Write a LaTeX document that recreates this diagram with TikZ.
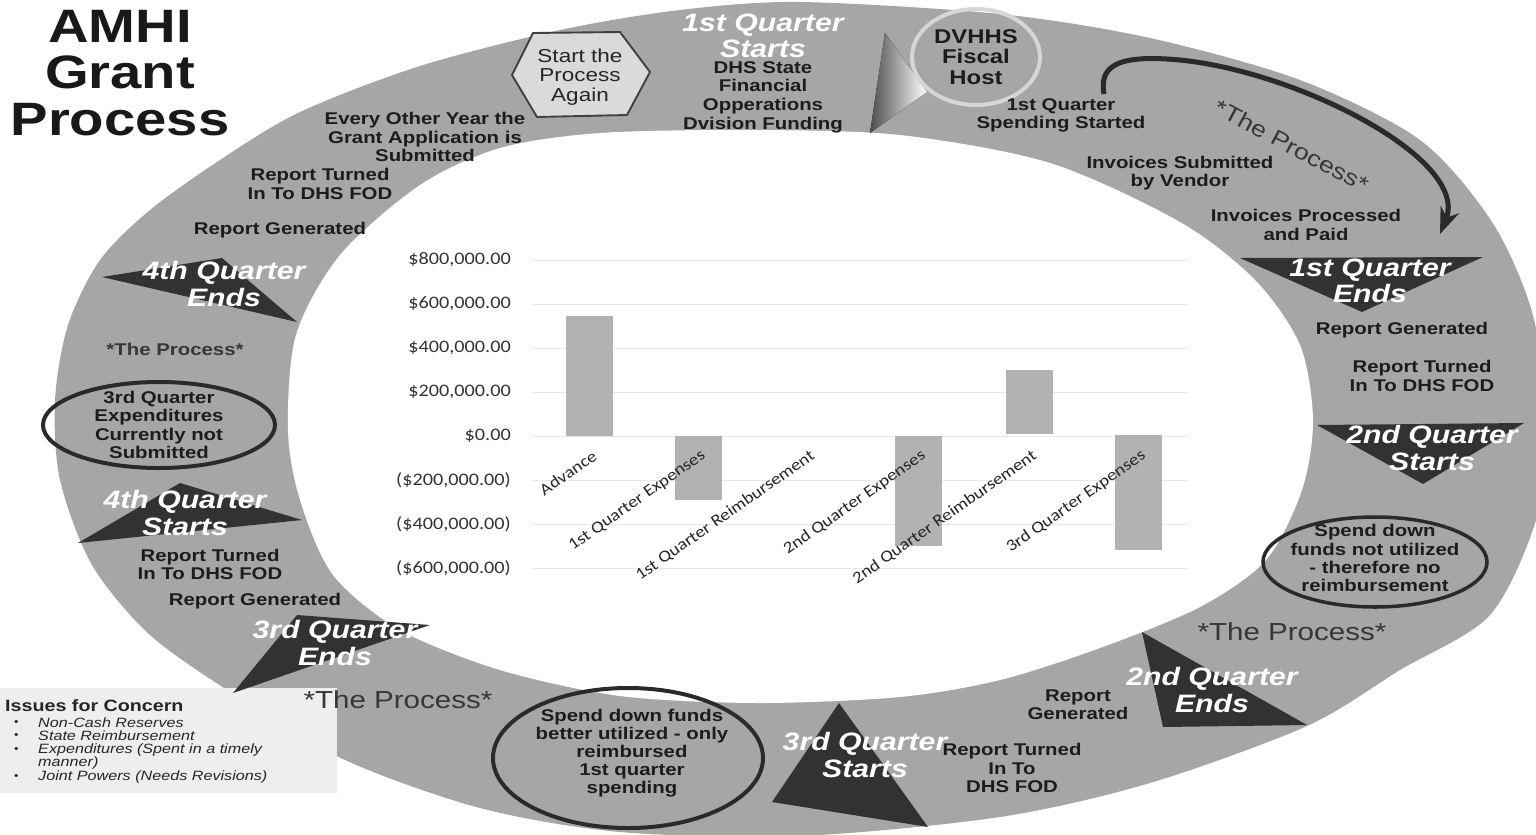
\documentclass[tikz,border=0pt]{standalone}
\usepackage{fontspec}
\setmainfont{Liberation Sans}[FakeStretch=1.2]
\newfontfamily\chartfont{Carlito}[FakeStretch=1.15]
\usetikzlibrary{arrows.meta,positioning,shapes.geometric}

\definecolor{ringgray}{RGB}{166,166,166}
\definecolor{markdark}{RGB}{50,50,50}
\definecolor{labeldark}{RGB}{28,28,28}
\definecolor{procgray}{RGB}{55,55,55}
\definecolor{hexfill}{RGB}{218,218,218}
\definecolor{fiscalline}{RGB}{214,214,214}
\definecolor{loopline}{RGB}{42,42,42}
\definecolor{barfill}{RGB}{178,178,178}
\definecolor{gridgray}{RGB}{232,232,232}
\definecolor{issuebg}{RGB}{238,238,238}

\begin{document}
\begin{tikzpicture}[x=0.03cm, y=-0.03cm, >=Stealth,
  lbl/.style={font=\fontsize{14.5}{15.5}\selectfont\bfseries, text=labeldark, align=center, inner sep=0pt},
  qtr/.style={font=\fontsize{21.5}{22.5}\selectfont\bfseries\itshape, text=white, align=center, inner sep=0pt},
  proc/.style={font=\fontsize{21}{22}\selectfont, text=procgray, inner sep=0pt},
  qmark/.style={fill=markdark},
  hole/.style={ellipse, draw=loopline, line width=3.4pt, inner sep=0pt},
  ylbl/.style={font=\chartfont\fontsize{15}{16}\selectfont, text=black!80, anchor=east, inner sep=0pt},
  catlbl/.style={font=\chartfont\fontsize{14}{15}\selectfont, text=black!85, anchor=east, rotate=35, inner sep=0pt},
  gridline/.style={draw=gridgray, line width=0.8pt},
  issueitem/.style={font=\fontsize{11.5}{12}\selectfont\itshape, text=black!85, anchor=west, inner sep=0pt}
]
\useasboundingbox (0,0) rectangle (1536,834);
\clip (0,0) rectangle (1536,834);

% the ring
\fill[ringgray] plot[smooth cycle] coordinates {
  (800,2) (1000,14) (1150,38) (1300,80) (1420,140) (1492,222) (1532,312)
  (1548,420) (1537,517) (1490,615) (1400,670) (1307,726) (1150,783) (1000,817)
  (800,836) (620,832) (480,808) (345,760) (235,695) (150,635) (92,565)
  (60,480) (55,400) (68,325) (100,260) (150,210) (220,160) (300,112)
  (420,66) (560,30) (680,10)};
\fill[white] plot[smooth cycle] coordinates {
  (750,130) (900,135) (1050,163) (1180,222) (1255,280) (1300,345) (1313,420)
  (1302,490) (1266,560) (1200,607) (1100,648) (1000,680) (900,697) (758,703)
  (620,696) (500,670) (400,630) (333,575) (300,500) (288,430) (296,335)
  (340,255) (420,185) (500,148) (600,133)};

% notch at the top
\fill[left color=black!70, right color=white] (885,33) -- (927,92) -- (870,133) -- cycle;

% issues box
\fill[issuebg] (0,688) rectangle (337,793);

% chart
\foreach \v/\t [count=\k] in {4/{\$800,000.00}, 3/{\$600,000.00}, 2/{\$400,000.00}, 1/{\$200,000.00},
    0/{\$0.00}, -1/{(\$200,000.00)}, -2/{(\$400,000.00)}, -3/{(\$600,000.00)}} {
  \draw[gridline] (532,436-44*\v) -- (1188,436-44*\v);
  \node[ylbl] (ytick\k) at (511,436-44*\v) {\t};
}
\foreach \c/\ya/\yb in {589/316/436, 698/436/500, 918/436/546, 1029/370/434, 1138/435/550}
  \fill[barfill] (\c-23.5,\ya) rectangle (\c+23.5,\yb);
\foreach \c/\t [count=\k] in {589/Advance, 698/1st Quarter Expenses, 807/1st Quarter Reimbursement,
    918/2nd Quarter Expenses, 1029/2nd Quarter Reimbursement, 1138/3rd Quarter Expenses}
  \node[catlbl] (cat\k) at (\c+6,454) {\t};

% quarter markers
\fill[qmark] (102,277) -- (222,258) -- (297,322) -- cycle;
\fill[qmark] (1240,258) -- (1483,257) -- (1362,312) -- cycle;
\fill[qmark] (1317,425) -- (1524,423) -- (1423,484) -- cycle;
\fill[qmark] (1142,632) -- (1307,725) -- (1163,727) -- cycle;
\fill[qmark] (839,703) -- (928,827) -- (772,802) -- cycle;
\fill[qmark] (297,615) -- (430,625) -- (233,693) -- cycle;
\fill[qmark] (180,483) -- (302,520) -- (78,543) -- cycle;

% start again hexagon and circles
\draw[fill=hexfill, draw=black!75, line width=1.6pt]
  (512,75) -- (533,33) -- (620,32) -- (650,72) -- (627,115) -- (537,117) -- cycle;
\node[font=\fontsize{16}{16.5}\selectfont, align=center, text=black!85, inner sep=0pt] (again) at (580,77) {Start the\\Process\\Again};
\node[ellipse, draw=fiscalline, line width=3.4pt, minimum width=3.84cm, minimum height=2.88cm, inner sep=0pt,
  font=\fontsize{17}{17.5}\selectfont\bfseries, align=center, text=labeldark] (fiscal) at (976,57) {DVHHS\\Fiscal\\Host};
\node[hole, minimum width=6.96cm, minimum height=2.58cm] (notsub) at (159,425) {};
\node[hole, minimum width=6.72cm, minimum height=2.7cm, line width=3pt] (notused) at (1375,562) {};
\node[hole, minimum width=8.1cm, minimum height=4.2cm] (better) at (628,758) {};

% the process arrow
\coordinate (arcstart) at (1104,94);
\coordinate (arcend) at (1440,234);
\draw[->, line width=4.3pt, draw=loopline] (arcstart) .. controls (1098,62) and (1125,55) .. (1180,60)
  .. controls (1300,72) and (1470,160) .. (arcend);

% quarter texts
\node[qtr] (q1start) at (763,36) {1st Quarter\\Starts};
\node[qtr] (q1end) at (1370,281) {1st Quarter\\Ends};
\node[qtr] (q2start) at (1432,448) {2nd Quarter\\Starts};
\node[qtr] (q2end) at (1212,690) {2nd Quarter\\Ends};
\node[qtr] (q3start) at (865,755) {3rd Quarter\\Starts};
\node[qtr] (q3end) at (335,643) {3rd Quarter\\Ends};
\node[qtr] (q4start) at (185,513) {4th Quarter\\Starts};
\node[qtr] (q4end) at (224,284) {4th Quarter\\Ends};

% step texts
\node[lbl, font=\fontsize{14.5}{16}\selectfont\bfseries] (funding) at (763,97) {DHS State\\Financial\\Opperations\\Dvision Funding};
\node[lbl] (everyother) at (425,137) {Every Other Year the\\Grant Application is\\Submitted};
\node[lbl] (turned4) at (320,184) {Report Turned\\In To DHS FOD};
\node[lbl] (gen4) at (280,230) {Report Generated};
\node[lbl, text=procgray] (proc4) at (175,349) {*The Process*};
\node[lbl] (spend1) at (1061,115) {1st Quarter\\Spending Started};
\node[lbl] (invsub) at (1180,173) {Invoices Submitted\\by Vendor};
\node[lbl] (invpaid) at (1306,225) {Invoices Processed\\and Paid};
\node[lbl] (gen1) at (1402,330) {Report Generated};
\node[lbl] (turned1) at (1422,376) {Report Turned\\In To DHS FOD};
\node[lbl] (gen2) at (1078,705) {Report\\Generated};
\node[lbl] (turned2) at (1012,768) {Report Turned\\In To\\DHS FOD};
\node[lbl] (turned3) at (210,564) {Report Turned\\In To DHS FOD};
\node[lbl] (gen3) at (255,601) {Report Generated};
\node[lbl] at (notsub) {3rd Quarter\\Expenditures\\Currently not\\Submitted};
\node[lbl] at (1375,558) {Spend down\\funds not utilized\\- therefore no\\reimbursement};
\node[lbl] at (632,753) {Spend down funds\\better utilized - only\\reimbursed\\1st quarter\\spending};
\node[proc] (proc2) at (1292,632) {*The Process*};
\node[proc] (proc3) at (398,700) {*The Process*};
\node[proc, font=\fontsize{19}{20}\selectfont, rotate=-28] (proc1) at (1292,146) {*The Process*};

% title
\node[font=\fontsize{40}{40}\selectfont\bfseries, align=center, text=black!90, inner sep=0pt] (title) at (120,73) {AMHI\\Grant\\Process};

% issues list
\node[font=\fontsize{14}{15}\selectfont\bfseries, text=black!85, anchor=west, inner sep=0pt] (issues) at (5,706) {Issues for Concern};
\foreach \y/\t [count=\k] in {723/Non-Cash Reserves, 736/State Reimbursement, 750/Expenditures (Spent in a timely, 777/Joint Powers (Needs Revisions)} {
  \node[issueitem, font=\fontsize{9}{9}\selectfont] (bul\k) at (14,\y) {\textbullet};
  \node[issueitem] (item\k) at (38,\y) {\t};
}
\node[issueitem] (item3b) at (38,763) {manner)};
\end{tikzpicture}
\end{document}
